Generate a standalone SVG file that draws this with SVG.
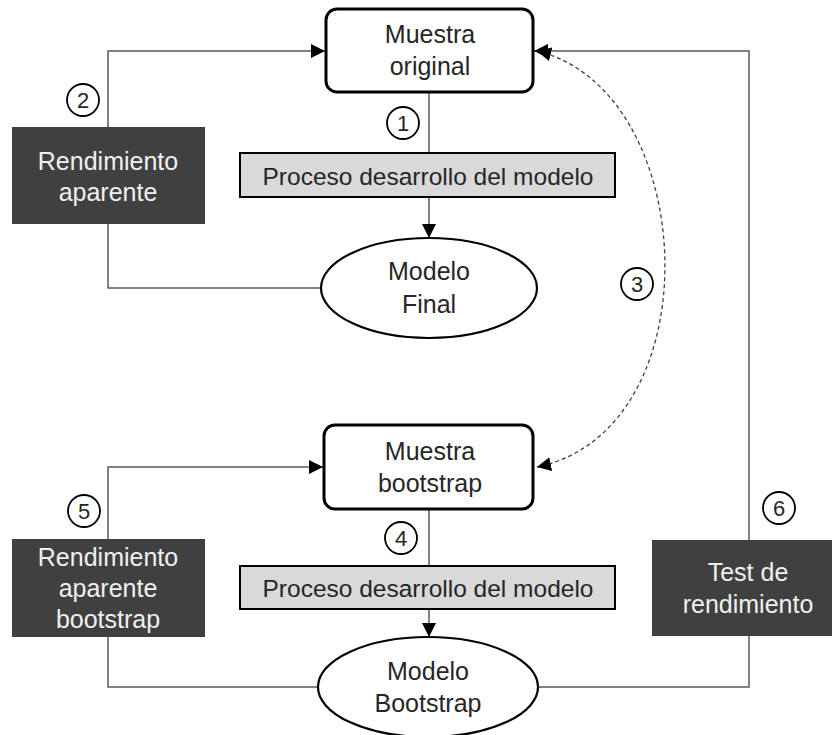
<svg xmlns="http://www.w3.org/2000/svg" width="832" height="735" viewBox="0 0 832 735">
<style>
text{font-family:"Liberation Sans",Arial,sans-serif;font-size:25px;text-anchor:middle;fill:#262626}
text.pt{font-size:24.5px}
.sample{fill:#fff;stroke:#000;stroke-width:3}
.proc{fill:#d9d9d9;stroke:#000;stroke-width:2}
.ell{fill:#fff;stroke:#000;stroke-width:2.2}
.dark{fill:#404040}
.dark text{fill:#f0f0f0}
.num circle{fill:#fff;stroke:#000;stroke-width:1.8}
.num text{font-size:22px}
.conn{fill:none;stroke:#595959;stroke-width:1.5}
.dash{fill:none;stroke:#404040;stroke-width:1.3;stroke-dasharray:4 3}
</style>
<defs>
<marker id="ahb" viewBox="0 0 10 10" refX="10" refY="5" markerWidth="14" markerHeight="14" markerUnits="userSpaceOnUse" orient="auto-start-reverse">
<path d="M0,0 L10,5 L0,10 z" fill="#000"/>
</marker>
</defs>
<g id="connectors">
<path class="conn" d="M108,127 V51 H325" marker-end="url(#ahb)"/>
<path class="conn" d="M108,224 V288 H321"/>
<path class="conn" d="M749,540 V51 H534" marker-end="url(#ahb)"/>
<path class="conn" d="M429,92 V153"/>
<path class="conn" d="M429,197 V238" marker-end="url(#ahb)"/>
<path class="dash" d="M537,51 C700,90 715,430 537,467" marker-start="url(#ahb)" marker-end="url(#ahb)"/>
<path class="conn" d="M108,539 V467 H323" marker-end="url(#ahb)"/>
<path class="conn" d="M108,637 V687 H318"/>
<path class="conn" d="M749,636 V687 H538"/>
<path class="conn" d="M429,509 V566"/>
<path class="conn" d="M429,609 V637" marker-end="url(#ahb)"/>
</g>
<g id="muestra-original">
<rect class="sample" x="326" y="9" width="207" height="83" rx="11"/>
<text x="430" y="43">Muestra</text>
<text x="430" y="75">original</text>
</g>
<g id="proceso-1">
<rect class="proc" x="240" y="153" width="375" height="44"/>
<text class="pt" x="428" y="185">Proceso desarrollo del modelo</text>
</g>
<g id="modelo-final">
<ellipse class="ell" cx="429" cy="288" rx="108" ry="50"/>
<text x="429" y="280">Modelo</text>
<text x="429" y="313">Final</text>
</g>
<g id="rendimiento-aparente" class="dark">
<rect x="12" y="127" width="193" height="97"/>
<text x="108" y="170">Rendimiento</text>
<text x="108" y="201">aparente</text>
</g>
<g id="muestra-bootstrap">
<rect class="sample" x="324" y="425" width="209" height="84" rx="11"/>
<text x="430" y="460">Muestra</text>
<text x="430" y="492">bootstrap</text>
</g>
<g id="proceso-2">
<rect class="proc" x="240" y="566" width="375" height="43"/>
<text class="pt" x="428" y="597">Proceso desarrollo del modelo</text>
</g>
<g id="modelo-bootstrap">
<ellipse class="ell" cx="428" cy="687" rx="110" ry="50"/>
<text x="428" y="680">Modelo</text>
<text x="428" y="712">Bootstrap</text>
</g>
<g id="rendimiento-aparente-bootstrap" class="dark">
<rect x="12" y="539" width="193" height="98"/>
<text x="108" y="566">Rendimiento</text>
<text x="108" y="597">aparente</text>
<text x="108" y="628">bootstrap</text>
</g>
<g id="test-rendimiento" class="dark">
<rect x="652" y="540" width="180" height="96"/>
<text x="748" y="581">Test de</text>
<text x="748" y="613">rendimiento</text>
</g>
<g id="num-1" class="num"><circle cx="403" cy="123" r="16"/><text x="403" y="131">1</text></g>
<g id="num-2" class="num"><circle cx="83" cy="100" r="16"/><text x="83" y="108">2</text></g>
<g id="num-3" class="num"><circle cx="637" cy="284" r="16"/><text x="637" y="292">3</text></g>
<g id="num-4" class="num"><circle cx="401" cy="538" r="16"/><text x="401" y="546">4</text></g>
<g id="num-5" class="num"><circle cx="84" cy="511" r="16"/><text x="84" y="519">5</text></g>
<g id="num-6" class="num"><circle cx="779" cy="508" r="16"/><text x="779" y="516">6</text></g>
</svg>
